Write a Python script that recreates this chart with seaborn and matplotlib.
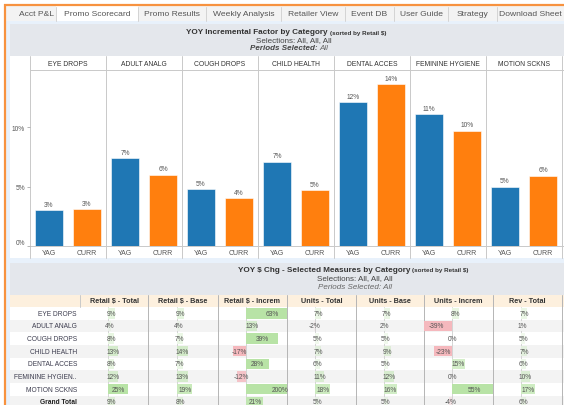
import matplotlib
matplotlib.use('Agg')
import matplotlib.pyplot as plt
from matplotlib.patches import Rectangle
import pandas as pd
import seaborn as sns

# ---- data ----
categories = ['EYE DROPS', 'ADULT ANALG', 'COUGH DROPS', 'CHILD HEALTH',
              'DENTAL ACCES', 'FEMININE HYGIENE', 'MOTION SCKNS']
periods = ['YAG', 'CURR']
yag_factor = [0.030, 0.074, 0.048, 0.071, 0.121, 0.111, 0.050]
curr_factor = [0.031, 0.060, 0.040, 0.047, 0.136, 0.097, 0.059]

row_labels = ['EYE DROPS', 'ADULT ANALG', 'COUGH DROPS', 'CHILD HEALTH',
              'DENTAL ACCES', 'FEMININE HYGIEN..', 'MOTION SCKNS', 'Grand Total']
measures = ['Retail $ - Total', 'Retail $ - Base', 'Retail $ - Increm',
            'Units - Total', 'Units - Base', 'Units - Increm', 'Rev - Total']
retail_total = [0.09, 0.04, 0.08, 0.13, 0.08, 0.12, 0.25, 0.09]
retail_base = [0.09, 0.04, 0.07, 0.14, 0.07, 0.13, 0.19, 0.08]
retail_increm = [0.63, 0.13, 0.39, -0.17, 0.28, -0.12, 2.00, 0.21]
units_total = [0.07, -0.02, 0.05, 0.07, 0.06, 0.11, 0.18, 0.05]
units_base = [0.07, 0.02, 0.05, 0.09, 0.05, 0.12, 0.16, 0.05]
units_increm = [0.08, -0.39, 0.00, -0.23, 0.15, 0.00, 0.55, -0.04]
rev_total = [0.07, 0.01, 0.05, 0.07, 0.06, 0.10, 0.17, 0.06]
table_cols = [retail_total, retail_base, retail_increm, units_total,
              units_base, units_increm, rev_total]

tabs = ['Acct P&L', 'Promo Scorecard', 'Promo Results', 'Weekly Analysis',
        'Retailer View', 'Event DB', 'User Guide', 'Strategy', 'Download Sheet']

# ---- styling ----
sns.set_theme(style='white')
plt.rcParams['font.family'] = ['Liberation Sans', 'DejaVu Sans']

BLUE = '#1f77b4'
ORANGE = '#ff7f0e'
PANEL = '#e8f1fb'
TITLE_BG = '#e4e7ec'
LINE = '#c9c9c9'
TXT = '#555555'

W, H = 564, 406


def box(x, y, w, h):
    # pixel box (top-left origin) -> figure fraction
    return [x / W, 1 - (y + h) / H, w / W, h / H]


fig = plt.figure(figsize=(W / 100, H / 100), dpi=100)
fig.patch.set_facecolor('white')

bg = fig.add_axes([0, 0, 1, 1])
bg.set_xlim(0, W)
bg.set_ylim(H, 0)
bg.axis('off')


def rect(x, y, w, h, fc, ec='none', lw=0):
    bg.add_patch(Rectangle((x, y), w, h, facecolor=fc, edgecolor=ec, linewidth=lw))


# page background + orange frame
rect(6, 7, W, H, PANEL)
bg.plot([4, W], [5.5, 5.5], color='#f7923f', lw=1.6, solid_capstyle='butt')
bg.plot([5, 5], [5, H], color='#f7923f', lw=1.6, solid_capstyle='butt')

# tab strip
tab_edges = [17, 56, 138, 206, 281, 345, 394, 448, 497, 570]
rect(6, 7, W, 15, '#f3f3f3')
for i, name in enumerate(tabs):
    x0, x1 = tab_edges[i], tab_edges[i + 1]
    rect(x0, 7, x1 - x0, 15, 'white' if name == 'Promo Scorecard' else '#f3f3f3')
    bg.plot([x1, x1], [8, 22], color='#d4d4d4', lw=0.7)
    bg.text((x0 + x1) / 2 if x1 < W else x0 + 33, 14.5, name, ha='center', va='center',
            fontsize=6.1, color=TXT)

# ---- top panel: incremental factor ----
rect(10, 25, W - 10, 32, TITLE_BG)
bg.text(328, 32.5, 'YOY Incremental Factor by Category', ha='right', va='center',
        fontsize=5.9, fontweight='bold', color='#333333')
bg.text(330, 33, '(sorted by Retail $)', ha='left', va='center',
        fontsize=4.5, fontweight='bold', color='#333333')
bg.text(294, 40.5, 'Selections: All, All, All', ha='center', va='center', fontsize=5.8, color='#444444')
bg.text(318, 48.5, 'Periods Selected:', ha='right', va='center', fontsize=5.8,
        fontweight='bold', style='italic', color='#444444')
bg.text(319.5, 48.5, 'All', ha='left', va='center', fontsize=5.8, style='italic', color='#666666')

rect(10, 57, W - 10, 202, 'white')

x_start, facet_w = 30, 76
top_y, base_y = 71, 247
bg.plot([x_start, W], [top_y, top_y], color=LINE, lw=0.7)
bg.plot([x_start, W], [base_y, base_y], color=LINE, lw=0.7)
for i in range(len(categories) + 1):
    xe = x_start + i * facet_w
    bg.plot([xe, xe], [57, 259], color=LINE, lw=0.7)

for i, cat in enumerate(categories):
    x0 = x_start + i * facet_w
    bg.text(x0 + facet_w / 2, 64.5, cat, ha='center', va='center', fontsize=4.9, color='#333333')
    df = pd.DataFrame({'period': periods, 'value': [yag_factor[i], curr_factor[i]]})
    ax = fig.add_axes(box(x0, top_y, facet_w, base_y - top_y))
    ax.patch.set_alpha(0)
    sns.barplot(data=df, x='period', y='value', hue='period', order=periods,
                palette={'YAG': BLUE, 'CURR': ORANGE}, saturation=1, width=0.73,
                legend=False, edgecolor='white', linewidth=0.4, ax=ax)
    ax.set_xlim(-0.5, 1.5)
    ax.set_ylim(0, 0.148)
    for j, v in enumerate(df['value']):
        ax.text(j, v + 0.002, f'{round(v * 100)}%', ha='center', va='bottom',
                fontsize=4.8, color=TXT)
    for s in ax.spines.values():
        s.set_visible(False)
    ax.set_xlabel('')
    ax.set_ylabel('')
    ax.tick_params(axis='x', length=0, pad=2.5, labelsize=5, labelcolor=TXT)
    ax.set_xticks([0.5], minor=True)
    ax.tick_params(axis='x', which='minor', length=2, color=LINE, width=0.6)
    if i == 0:
        ax.set_yticks([0, 0.05, 0.10])
        ax.set_yticklabels(['0%', '5%', '10%'])
        ax.tick_params(axis='y', length=2, color='#aaaaaa', width=0.6, pad=1.5,
                       labelsize=4.8, labelcolor=TXT, left=True)
        ax.get_yticklabels()[0].set_verticalalignment('bottom')
    else:
        ax.set_yticks([])

# ---- bottom panel: YOY $ change table ----
rect(10, 264, W - 10, 32, TITLE_BG)
bg.text(410, 270.5, 'YOY $ Chg - Selected Measures by Category', ha='right', va='center',
        fontsize=5.9, fontweight='bold', color='#333333')
bg.text(412, 271, '(sorted by Retail $)', ha='left', va='center',
        fontsize=4.5, fontweight='bold', color='#333333')
bg.text(355, 279, 'Selections: All, All, All', ha='center', va='center', fontsize=5.8, color='#444444')
bg.text(355, 287.5, 'Periods Selected: All', ha='center', va='center', fontsize=5.8,
        style='italic', color='#666666')

col_edges = [80, 148, 218, 287, 356, 424, 493, 562]
head_y, row_h = 296, 12.65
body_y = head_y + 12
rect(10, head_y, W - 10, 12, '#fdf0de')
rect(10, body_y, W - 10, H - body_y, 'white')
row_bg = []
for r, lab in enumerate(row_labels):
    ry = body_y + r * row_h
    fc = '#f3f3f3' if r % 2 == 1 else 'white'
    row_bg.append(fc)
    rect(10, ry, W - 10, row_h, fc)
    bold = lab == 'Grand Total'
    bg.text(77, ry + row_h / 2, lab, ha='right', va='center', fontsize=4.8,
            fontweight='bold' if bold else 'normal', color='#222222' if bold else '#3d3d4f')
for j, m in enumerate(measures):
    bg.text((col_edges[j] + col_edges[j + 1]) / 2, head_y + 6, m, ha='center', va='center',
            fontsize=5.2, fontweight='bold', color='#333333')
bg.plot([80, 80], [head_y, body_y], color=LINE, lw=0.7)
for xe in col_edges[1:]:
    bg.plot([xe, xe], [head_y, H], color='#b5b5b5', lw=0.7)


def cell_color(v, back):
    if v >= 0:
        base, t = (0.72, 0.89, 0.65), min(v / 0.25, 1.0)
    else:
        base, t = (0.96, 0.72, 0.74), min(-v / 0.15, 1.0)
    b = matplotlib.colors.to_rgb(back)
    return tuple(bb + (c - bb) * t for c, bb in zip(base, b))


xmin, xmax = -0.35, 0.50
for j, vals in enumerate(table_cols):
    x0, x1 = col_edges[j], col_edges[j + 1]
    ax = fig.add_axes(box(x0, body_y, x1 - x0, row_h * len(row_labels)))
    ax.patch.set_alpha(0)
    pal = {lab: cell_color(v, row_bg[r]) for r, (lab, v) in enumerate(zip(row_labels, vals))}
    sns.barplot(x=vals, y=row_labels, hue=row_labels, palette=pal, orient='h',
                saturation=1, width=0.82, legend=False, linewidth=0, ax=ax)
    ax.axvline(0, color='#cfcfcf', lw=0.6, zorder=0.5)
    ax.set_xlim(xmin, xmax)
    ax.set_ylim(len(row_labels) - 0.5, -0.5)
    for r, v in enumerate(vals):
        tx = min(max(v / 2, xmin + 0.06), xmax - 0.085)
        ax.text(tx, r, f'{round(v * 100)}%', ha='center', va='center', fontsize=4.8, color=TXT)
    ax.axis('off')

fig.savefig('out.png', dpi=100)
